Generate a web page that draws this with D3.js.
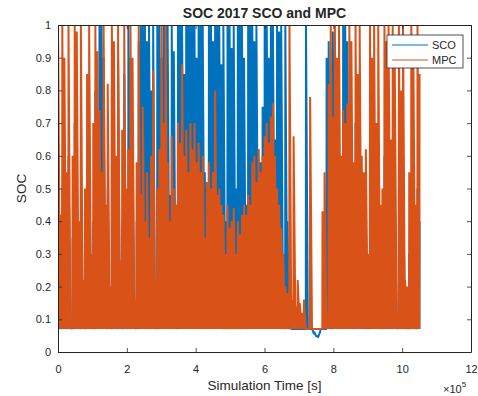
<!DOCTYPE html>
<html>
<head>
<meta charset="utf-8">
<script src="https://cdn.jsdelivr.net/npm/d3@7/dist/d3.min.js"></script>
<style>
  body { margin: 0; background: #fff; }
  svg text { font-family: "Liberation Sans", Arial, sans-serif; fill: #262626; }
</style>
</head>
<body>
<svg id="chart" width="478" height="396"></svg>
<script>
// each bin is 6000 s; min and max SOC seen inside the bin
const binSeconds = 6000;
const xTicks = [0, 2, 4, 6, 8, 10, 12];            // x 10^5 s
const yTicks = [0, 0.1, 0.2, 0.3, 0.4, 0.5, 0.6, 0.7, 0.8, 0.9, 1];
const seriesNames = ["SCO", "MPC"];

const scoMax = [
  0.4, 0.3, 0.5, 0.35, 0.3, 0.6, 0.08, 0.35, 0.7, 0.5, 0.3, 0.6, 0.15, 0.3, 0.5, 0.7,
  0.2, 0.4, 0.8, 0.6, 1.0, 1.0, 0.9, 0.35, 0.5, 0.12, 0.8, 0.6, 0.4, 0.9, 0.2, 0.4,
  0.85, 0.3, 1.0, 0.9, 0.6, 0.1, 0.4, 0.95, 1.0, 1.0, 1.0, 0.95, 1.0, 0.8, 1.0, 0.2,
  1.0, 1.0, 0.9, 1.0, 1.0, 1.0, 0.48, 1.0, 0.92, 0.45, 1.0, 1.0, 1.0, 0.85, 1.0, 1.0,
  1.0, 1.0, 1.0, 0.9, 1.0, 1.0, 1.0, 0.55, 0.5, 1.0, 1.0, 0.95, 1.0, 1.0, 1.0, 0.88,
  1.0, 0.4, 1.0, 1.0, 0.93, 1.0, 0.5, 1.0, 1.0, 1.0, 0.9, 0.45, 1.0, 1.0, 1.0, 0.95,
  1.0, 0.62, 0.58, 0.75, 1.0, 1.0, 0.9, 1.0, 1.0, 0.65, 1.0, 0.98, 1.0, 0.3, 1.0, 0.4,
  0.1, 0.07, 0.07, 0.07, 0.07, 0.07, 0.07, 0.07, 1.0, 0.07, 0.07, 0.07, 0.062, 0.05, 0.048, 0.07,
  0.07, 0.07, 0.9, 0.95, 0.4, 0.98, 0.5, 0.4, 0.6, 0.35, 1.0, 1.0, 0.95, 0.6, 0.5, 0.4,
  0.7, 0.5, 0.6, 0.4, 0.35, 0.4, 0.2, 0.6, 0.5, 0.7, 0.4, 0.6, 0.3, 0.35, 0.6, 0.5,
  0.7, 0.4, 0.6, 0.5, 0.1, 0.5, 0.4, 0.6, 0.15, 0.12, 0.3, 0.5, 0.4, 0.3, 0.5, 0.4
];
const scoMin = [
  0.07, 0.07, 0.07, 0.07, 0.07, 0.07, 0.07, 0.07, 0.07, 0.07, 0.07, 0.07, 0.07, 0.07, 0.07, 0.07,
  0.07, 0.07, 0.07, 0.07, 0.07, 0.07, 0.07, 0.07, 0.07, 0.07, 0.07, 0.07, 0.07, 0.07, 0.07, 0.07,
  0.07, 0.07, 0.07, 0.07, 0.07, 0.07, 0.07, 0.07, 0.07, 0.07, 0.07, 0.07, 0.07, 0.07, 0.07, 0.07,
  0.07, 0.07, 0.07, 0.07, 0.07, 0.07, 0.07, 0.07, 0.07, 0.07, 0.07, 0.07, 0.07, 0.07, 0.07, 0.07,
  0.07, 0.07, 0.07, 0.07, 0.07, 0.07, 0.07, 0.07, 0.07, 0.07, 0.07, 0.07, 0.07, 0.07, 0.07, 0.07,
  0.07, 0.07, 0.07, 0.07, 0.07, 0.07, 0.07, 0.07, 0.07, 0.07, 0.07, 0.07, 0.07, 0.07, 0.07, 0.07,
  0.07, 0.07, 0.07, 0.07, 0.07, 0.07, 0.07, 0.07, 0.07, 0.07, 0.07, 0.07, 0.07, 0.07, 0.07, 0.07,
  0.07, 0.07, 0.07, 0.07, 0.07, 0.07, 0.07, 0.07, 0.07, 0.07, 0.07, 0.07, 0.055, 0.048, 0.045, 0.062,
  0.07, 0.07, 0.07, 0.07, 0.07, 0.07, 0.07, 0.07, 0.07, 0.07, 0.07, 0.07, 0.07, 0.07, 0.07, 0.07,
  0.07, 0.07, 0.07, 0.07, 0.07, 0.07, 0.07, 0.07, 0.07, 0.07, 0.07, 0.07, 0.07, 0.07, 0.07, 0.07,
  0.07, 0.07, 0.07, 0.07, 0.07, 0.07, 0.07, 0.07, 0.07, 0.07, 0.07, 0.07, 0.07, 0.07, 0.07, 0.07
];

const mpcMax = [
  0.95, 0.42, 1.0, 0.9, 0.55, 1.0, 0.1, 0.6, 1.0, 0.98, 0.4, 1.0, 0.22, 0.5, 0.85, 1.0,
  0.3, 0.7, 1.0, 0.92, 0.74, 0.55, 1.0, 0.45, 0.82, 0.2, 1.0, 0.95, 0.6, 1.0, 0.28, 0.68,
  1.0, 0.5, 0.62, 1.0, 0.9, 0.16, 0.58, 1.0, 0.48, 0.75, 0.4, 0.55, 0.35, 0.6, 0.86, 0.22,
  0.5, 0.62, 1.0, 0.7, 1.0, 0.58, 0.4, 0.66, 0.5, 0.45, 0.7, 0.64, 0.88, 0.6, 0.68, 0.55,
  0.7, 0.62, 0.7, 0.58, 0.64, 0.55, 0.6, 0.35, 0.52, 0.58, 0.5, 0.55, 0.8, 0.48, 0.5, 0.45,
  0.42, 0.3, 0.45, 0.38, 0.4, 0.44, 0.3, 0.4, 0.36, 0.42, 0.45, 0.42, 0.48, 0.45, 0.58, 0.6,
  0.52, 0.62, 0.55, 0.6, 0.66, 0.7, 0.64, 0.72, 0.76, 0.6, 0.5, 0.45, 0.38, 0.3, 0.2, 0.18,
  1.0, 0.16, 0.66, 0.14, 0.22, 0.15, 0.12, 0.16, 0.07, 0.07, 0.78, 0.07, 0.07, 0.07, 0.07, 0.07,
  0.43, 0.55, 0.12, 0.82, 1.0, 0.72, 1.0, 0.9, 1.0, 0.6, 0.74, 0.7, 0.76, 1.0, 0.95, 0.58,
  1.0, 0.85, 1.0, 0.6, 0.55, 0.62, 0.3, 1.0, 0.9, 1.0, 0.7, 1.0, 0.45, 0.5, 1.0, 0.95,
  1.0, 0.65, 1.0, 0.88, 0.12, 1.0, 0.8, 1.0, 0.22, 0.2, 0.55, 1.0, 0.92, 0.45, 1.0, 0.85
];
const mpcMin = [
  0.07, 0.07, 0.07, 0.07, 0.07, 0.07, 0.07, 0.07, 0.07, 0.07, 0.07, 0.07, 0.07, 0.07, 0.07, 0.07,
  0.07, 0.07, 0.07, 0.07, 0.07, 0.07, 0.07, 0.07, 0.07, 0.07, 0.07, 0.07, 0.07, 0.07, 0.07, 0.07,
  0.07, 0.07, 0.07, 0.07, 0.07, 0.07, 0.07, 0.07, 0.07, 0.07, 0.07, 0.07, 0.07, 0.07, 0.07, 0.07,
  0.07, 0.07, 0.07, 0.07, 0.07, 0.07, 0.07, 0.07, 0.07, 0.07, 0.07, 0.07, 0.07, 0.07, 0.07, 0.07,
  0.07, 0.07, 0.07, 0.07, 0.07, 0.07, 0.07, 0.07, 0.07, 0.07, 0.07, 0.07, 0.07, 0.07, 0.07, 0.07,
  0.07, 0.07, 0.07, 0.07, 0.07, 0.07, 0.07, 0.07, 0.07, 0.07, 0.07, 0.07, 0.07, 0.07, 0.07, 0.07,
  0.07, 0.07, 0.07, 0.07, 0.07, 0.07, 0.07, 0.07, 0.07, 0.07, 0.07, 0.07, 0.07, 0.07, 0.07, 0.07,
  0.07, 0.07, 0.07, 0.07, 0.07, 0.07, 0.07, 0.07, 0.07, 0.07, 0.07, 0.07, 0.07, 0.07, 0.07, 0.07,
  0.07, 0.07, 0.07, 0.07, 0.07, 0.07, 0.07, 0.07, 0.07, 0.07, 0.07, 0.07, 0.07, 0.07, 0.07, 0.07,
  0.07, 0.07, 0.07, 0.07, 0.07, 0.07, 0.07, 0.07, 0.07, 0.07, 0.07, 0.07, 0.07, 0.07, 0.07, 0.07,
  0.07, 0.07, 0.07, 0.07, 0.07, 0.07, 0.07, 0.07, 0.07, 0.07, 0.07, 0.07, 0.07, 0.07, 0.07, 0.07
];

const colors = ["#0072BD", "#D95319"];
const margin = { top: 25, right: 7, bottom: 44, left: 58 };
const width = 478 - margin.left - margin.right;
const height = 396 - margin.top - margin.bottom;

// min then max of every bin, in time order (max taken early in the bin)
function samples(mins, maxs) {
  const pts = [];
  mins.forEach((v, i) => {
    pts.push([i * binSeconds, v]);
    pts.push([i * binSeconds + binSeconds / 12, maxs[i]]);
  });
  return pts;
}
const series = [samples(scoMin, scoMax), samples(mpcMin, mpcMax)];

const svg = d3.select("#chart");
const g = svg.append("g").attr("transform", "translate(" + margin.left + "," + margin.top + ")");

const x = d3.scaleLinear().domain([0, 12e5]).range([0, width]);
const y = d3.scaleLinear().domain([0, 1]).range([height, 0]);

svg.append("defs").append("clipPath").attr("id", "clip")
  .append("rect").attr("x", 0).attr("y", 0).attr("width", width).attr("height", height);

const line = d3.line().x(d => x(d[0])).y(d => y(d[1]));
g.append("g").attr("clip-path", "url(#clip)")
  .selectAll("path").data(series).enter().append("path")
  .attr("d", line)
  .attr("fill", "none")
  .attr("stroke", (d, i) => colors[i])
  .attr("stroke-width", 2)
  .attr("stroke-linejoin", "bevel");

// axes, MATLAB style: box, ticks pointing in
const tickLen = 4;
const axisColor = "#262626";
g.append("g").attr("transform", "translate(0," + height + ")")
  .call(d3.axisBottom(x).tickValues(xTicks.map(v => v * 1e5)).tickFormat((d, i) => xTicks[i])
    .tickSizeInner(-tickLen).tickSizeOuter(0).tickPadding(13));
g.append("g").attr("transform", "translate(0,0)")
  .call(d3.axisTop(x).tickValues(xTicks.map(v => v * 1e5)).tickFormat("")
    .tickSizeInner(-tickLen).tickSizeOuter(0));
g.append("g")
  .call(d3.axisLeft(y).tickValues(yTicks).tickFormat(d => d3.format("~g")(d))
    .tickSizeInner(-tickLen).tickSizeOuter(0).tickPadding(7));
g.append("g").attr("transform", "translate(" + width + ",0)")
  .call(d3.axisRight(y).tickValues(yTicks).tickFormat("")
    .tickSizeInner(-tickLen).tickSizeOuter(0));
g.selectAll(".domain").attr("stroke", axisColor).attr("stroke-width", 1);
g.selectAll(".tick line").attr("stroke", axisColor).attr("stroke-width", 0.8);
g.selectAll(".tick text").attr("font-size", 11).attr("font-family", null).style("fill", axisColor);

// title and labels
svg.append("text").attr("x", margin.left + width / 2).attr("y", 18)
  .attr("text-anchor", "middle").attr("font-size", 14).attr("font-weight", "bold")
  .text("SOC 2017 SCO and MPC");
svg.append("text").attr("x", margin.left + width / 2).attr("y", 390)
  .attr("text-anchor", "middle").attr("font-size", 13.5)
  .text("Simulation Time [s]");
svg.append("text").attr("transform", "translate(26," + (margin.top + height / 2) + ") rotate(-90)")
  .attr("text-anchor", "middle").attr("font-size", 13.5)
  .text("SOC");
const expo = svg.append("text").attr("x", 443).attr("y", 393).attr("font-size", 11);
expo.append("tspan").text("\u00d710");
expo.append("tspan").attr("font-size", 8).attr("dy", -6).text("5");

// legend
const lg = svg.append("g").attr("transform", "translate(387,35)");
lg.append("rect").attr("width", 76).attr("height", 33)
  .attr("fill", "#fff").attr("stroke", axisColor).attr("stroke-width", 0.8);
const item = lg.selectAll(".item").data(seriesNames).enter().append("g")
  .attr("transform", (d, i) => "translate(0," + (10 + i * 15) + ")");
item.append("line").attr("x1", 5).attr("x2", 41)
  .attr("stroke", (d, i) => colors[i]).attr("stroke-width", 1.2);
item.append("text").attr("x", 45).attr("dy", "0.35em").attr("font-size", 11).text(d => d);
</script>
</body>
</html>
